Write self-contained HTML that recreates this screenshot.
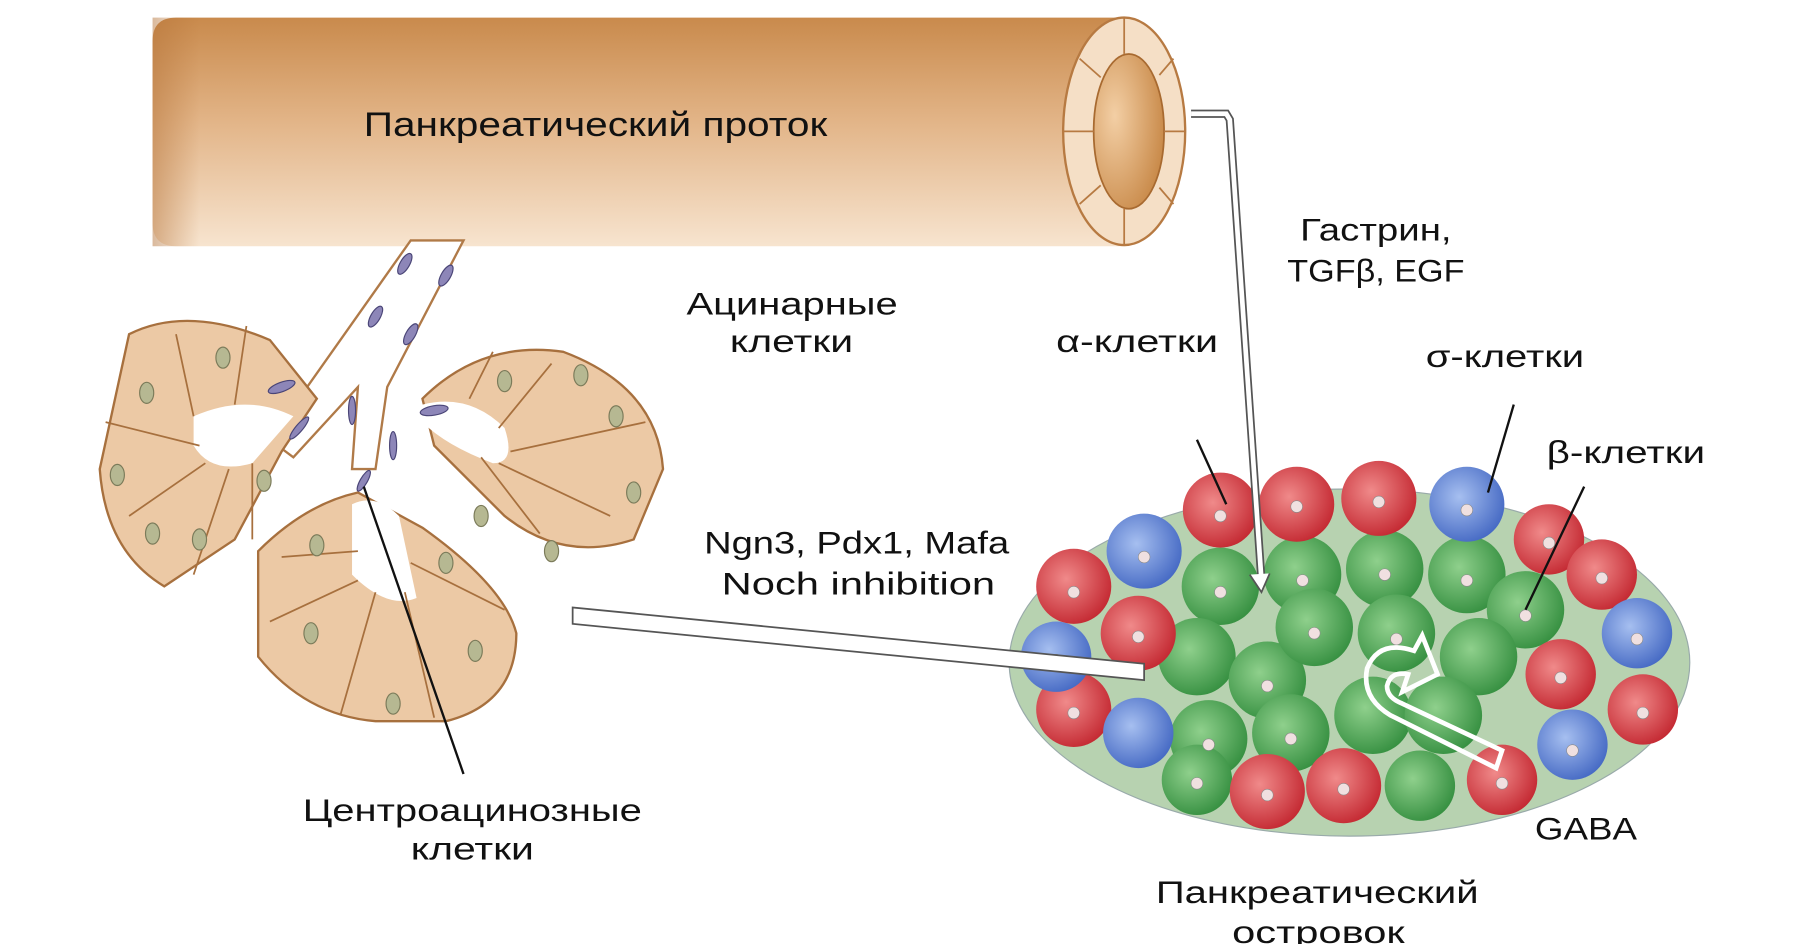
<!DOCTYPE html>
<html><head><meta charset="utf-8"><style>
html,body{margin:0;padding:0;background:#fff;}
svg{display:block;}
text{font-family:"Liberation Sans",sans-serif;fill:#111;}
</style></head><body>
<svg width="1813" height="944" viewBox="0 0 1545 805" preserveAspectRatio="none" xmlns="http://www.w3.org/2000/svg">
<defs>
<linearGradient id="duct" x1="0" y1="0" x2="0" y2="1">
<stop offset="0" stop-color="#c98a4c"/><stop offset="0.45" stop-color="#e2b487"/><stop offset="1" stop-color="#f7e4cf"/></linearGradient>
<linearGradient id="dl" x1="0" y1="0" x2="1" y2="0"><stop offset="0" stop-color="#b57338" stop-opacity="0.5"/><stop offset="1" stop-color="#b57338" stop-opacity="0"/></linearGradient>
<radialGradient id="inner" cx="0.3" cy="0.4" r="0.8"><stop offset="0" stop-color="#f3cfa5"/><stop offset="1" stop-color="#c4823f"/></radialGradient>
<radialGradient id="gr" cx="0.4" cy="0.4" r="0.7"><stop offset="0" stop-color="#8fd08c"/><stop offset="1" stop-color="#2e8a3a"/></radialGradient>
<radialGradient id="rd" cx="0.4" cy="0.4" r="0.7"><stop offset="0" stop-color="#f08a8a"/><stop offset="1" stop-color="#c0202a"/></radialGradient>
<radialGradient id="bl" cx="0.4" cy="0.4" r="0.7"><stop offset="0" stop-color="#a6bff0"/><stop offset="1" stop-color="#3d62c0"/></radialGradient>
</defs>
<!-- duct -->
<path d="M150,15 L960,15 L960,210 L150,210 Q130,210 130,190 L130,35 Q130,15 150,15Z" fill="url(#duct)"/>
<rect x="130" y="15" width="40" height="195" fill="url(#dl)"/>
<ellipse cx="958" cy="112" rx="52" ry="97" fill="#f5dfc6" stroke="#b77a42" stroke-width="2"/>
<ellipse cx="962" cy="112" rx="30" ry="66" fill="url(#inner)" stroke="#a86a30" stroke-width="1.5"/>
<g stroke="#b77a42" stroke-width="1.5"><line x1="958" y1="15" x2="958" y2="46"/><line x1="958" y1="178" x2="958" y2="209"/><line x1="906" y1="112" x2="932" y2="112"/><line x1="992" y1="112" x2="1010" y2="112"/><line x1="920" y1="50" x2="938" y2="66"/><line x1="920" y1="174" x2="938" y2="158"/><line x1="1000" y1="50" x2="988" y2="64"/><line x1="1000" y1="174" x2="988" y2="160"/></g>
<text x="310" y="116" font-size="29" textLength="395" lengthAdjust="spacingAndGlyphs">Панкреатический проток</text>
<!-- branch ducts -->
<path d="M350,205 L395,205 L330,330 L320,400 L300,400 L305,330 L250,390 L230,375 Z" fill="#fff" stroke="#b07a48" stroke-width="2"/>
<!-- acini -->
<g fill="#ecc9a5" stroke="#a7703e" stroke-width="2">
<path d="M110,285 Q160,260 230,290 L270,340 L240,385 L200,460 L140,500 Q90,470 85,400 Z"/>
<path d="M360,340 Q410,290 480,300 Q560,330 565,400 L540,460 Q480,480 430,440 L370,380 Z"/>
<path d="M220,470 Q260,430 305,420 L360,450 Q430,500 440,540 Q440,600 380,615 L320,615 Q260,610 220,560 Z"/>
</g>
<g fill="#fff"><path d="M165,355 Q210,335 250,355 L215,395 Q180,405 165,380Z"/>
<path d="M360,345 Q400,335 430,365 Q440,395 420,395 Q380,380 360,360Z"/>
<path d="M300,430 Q320,420 340,440 L355,510 Q330,520 300,490Z"/></g>
<g stroke="#a7703e" stroke-width="1.5" fill="none">
<path d="M165,355 L150,285 M200,345 L210,278 M170,380 L90,360 M175,395 L110,440 M195,400 L165,490 M215,395 L215,460"/>
<path d="M400,340 L420,300 M425,365 L470,310 M435,385 L550,360 M425,395 L520,440 M410,390 L460,455"/>
<path d="M305,470 L240,475 M305,495 L230,530 M320,505 L290,610 M345,505 L370,612 M350,480 L430,520"/>
</g>
<g fill="#b6b892" stroke="#7b7b5a">
<ellipse cx="190" cy="305" rx="6" ry="9"/><ellipse cx="125" cy="335" rx="6" ry="9"/><ellipse cx="100" cy="405" rx="6" ry="9"/><ellipse cx="130" cy="455" rx="6" ry="9"/><ellipse cx="170" cy="460" rx="6" ry="9"/><ellipse cx="225" cy="410" rx="6" ry="9"/>
<ellipse cx="430" cy="325" rx="6" ry="9"/><ellipse cx="495" cy="320" rx="6" ry="9"/><ellipse cx="525" cy="355" rx="6" ry="9"/><ellipse cx="540" cy="420" rx="6" ry="9"/><ellipse cx="470" cy="470" rx="6" ry="9"/><ellipse cx="410" cy="440" rx="6" ry="9"/>
<ellipse cx="270" cy="465" rx="6" ry="9"/><ellipse cx="265" cy="540" rx="6" ry="9"/><ellipse cx="335" cy="600" rx="6" ry="9"/><ellipse cx="405" cy="555" rx="6" ry="9"/><ellipse cx="380" cy="480" rx="6" ry="9"/>
</g>
<g fill="#8d86b8" stroke="#4a4577">
<ellipse cx="345" cy="225" rx="4" ry="10" transform="rotate(30 345 225)"/><ellipse cx="380" cy="235" rx="4" ry="10" transform="rotate(30 380 235)"/><ellipse cx="320" cy="270" rx="4" ry="10" transform="rotate(30 320 270)"/><ellipse cx="350" cy="285" rx="4" ry="10" transform="rotate(30 350 285)"/><ellipse cx="240" cy="330" rx="4" ry="12" transform="rotate(70 240 330)"/><ellipse cx="370" cy="350" rx="4" ry="12" transform="rotate(80 370 350)"/><ellipse cx="300" cy="350" rx="3" ry="12"/><ellipse cx="335" cy="380" rx="3" ry="12"/><ellipse cx="310" cy="410" rx="3" ry="10" transform="rotate(30 310 410)"/><ellipse cx="255" cy="365" rx="3" ry="12" transform="rotate(40 255 365)"/>
</g>
<line x1="310" y1="415" x2="395" y2="660" stroke="#111" stroke-width="2"/>
<text x="585" y="268" font-size="27" textLength="180" lengthAdjust="spacingAndGlyphs">Ацинарные</text><text x="622" y="300" font-size="27" textLength="105" lengthAdjust="spacingAndGlyphs">клетки</text>
<text x="258" y="700" font-size="27" textLength="289" lengthAdjust="spacingAndGlyphs">Центроацинозные</text><text x="350" y="733" font-size="27" textLength="105" lengthAdjust="spacingAndGlyphs">клетки</text>
<!-- islet -->
<ellipse cx="1150" cy="565" rx="290" ry="148" fill="#b7d2b0" stroke="#9aa" stroke-width="1"/>
<g fill="url(#gr)">
<circle cx="1040" cy="500" r="33"/><circle cx="1110" cy="490" r="33"/><circle cx="1180" cy="485" r="33"/><circle cx="1250" cy="490" r="33"/><circle cx="1300" cy="520" r="33"/>
<circle cx="1020" cy="560" r="33"/><circle cx="1080" cy="580" r="33"/><circle cx="1120" cy="535" r="33"/><circle cx="1190" cy="540" r="33"/><circle cx="1260" cy="560" r="33"/>
<circle cx="1030" cy="630" r="33"/><circle cx="1100" cy="625" r="33"/><circle cx="1170" cy="610" r="33"/><circle cx="1230" cy="610" r="33"/><circle cx="1210" cy="670" r="30"/><circle cx="1020" cy="665" r="30"/>
</g>
<g fill="url(#rd)">
<circle cx="1040" cy="435" r="32"/><circle cx="1105" cy="430" r="32"/><circle cx="1175" cy="425" r="32"/><circle cx="915" cy="500" r="32"/><circle cx="970" cy="540" r="32"/><circle cx="915" cy="605" r="32"/>
<circle cx="1080" cy="675" r="32"/><circle cx="1145" cy="670" r="32"/><circle cx="1280" cy="665" r="30"/><circle cx="1320" cy="460" r="30"/><circle cx="1365" cy="490" r="30"/><circle cx="1330" cy="575" r="30"/><circle cx="1400" cy="605" r="30"/>
</g>
<g fill="url(#bl)">
<circle cx="975" cy="470" r="32"/><circle cx="1250" cy="430" r="32"/><circle cx="900" cy="560" r="30"/><circle cx="970" cy="625" r="30"/><circle cx="1395" cy="540" r="30"/><circle cx="1340" cy="635" r="30"/>
</g>
<g fill="#f0e0e0" stroke="#888" stroke-width="0.5">
<circle cx="1040" cy="440" r="5"/><circle cx="1105" cy="432" r="5"/><circle cx="1175" cy="428" r="5"/><circle cx="915" cy="505" r="5"/><circle cx="970" cy="543" r="5"/><circle cx="915" cy="608" r="5"/><circle cx="1080" cy="678" r="5"/><circle cx="1145" cy="673" r="5"/><circle cx="1320" cy="463" r="5"/><circle cx="1365" cy="493" r="5"/><circle cx="1330" cy="578" r="5"/><circle cx="1400" cy="608" r="5"/><circle cx="1280" cy="668" r="5"/>
<circle cx="1040" cy="505" r="5"/><circle cx="1110" cy="495" r="5"/><circle cx="1180" cy="490" r="5"/><circle cx="1250" cy="495" r="5"/><circle cx="1300" cy="525" r="5"/><circle cx="1120" cy="540" r="5"/><circle cx="1190" cy="545" r="5"/><circle cx="1080" cy="585" r="5"/><circle cx="1030" cy="635" r="5"/><circle cx="1100" cy="630" r="5"/><circle cx="1020" cy="668" r="5"/>
<circle cx="975" cy="475" r="5"/><circle cx="1250" cy="435" r="5"/><circle cx="900" cy="563" r="5"/><circle cx="1395" cy="545" r="5"/><circle cx="1340" cy="640" r="5"/>
</g>
<!-- GABA arrow -->
<path d="M1275,655 L1185,610 Q1160,595 1165,570 Q1175,545 1205,555 L1212,542 L1225,575 L1195,590 L1200,575 Q1185,572 1182,585 Q1182,595 1195,600 L1280,640 Z" fill="none" stroke="#fff" stroke-width="4"/>
<!-- connectors -->
<path d="M1015,97 L1045,97 L1048,102 L1075,495" fill="none" stroke="#555" stroke-width="7"/>
<path d="M1015,97 L1045,97 L1048,102 L1075,495" fill="none" stroke="#fff" stroke-width="4"/>
<path d="M1065,490 L1075,505 L1082,489" fill="#fff" stroke="#555" stroke-width="1.5"/>
<path d="M488,518 L488,532 L975,580 L975,566 Z" fill="#fff" stroke="#555" stroke-width="1.5"/>
<line x1="1020" y1="375" x2="1045" y2="430" stroke="#111" stroke-width="2"/>
<line x1="1290" y1="345" x2="1268" y2="420" stroke="#111" stroke-width="2"/>
<line x1="1350" y1="415" x2="1300" y2="520" stroke="#111" stroke-width="2"/>
<text x="1108" y="205" font-size="27" textLength="129" lengthAdjust="spacingAndGlyphs">Гастрин,</text><text x="1097" y="240" font-size="27" textLength="151" lengthAdjust="spacingAndGlyphs">TGFβ, EGF</text>
<text x="900" y="300" font-size="27" textLength="138" lengthAdjust="spacingAndGlyphs">α-клетки</text>
<text x="1215" y="313" font-size="27" textLength="135" lengthAdjust="spacingAndGlyphs">σ-клетки</text>
<text x="1318" y="395" font-size="27" textLength="135" lengthAdjust="spacingAndGlyphs">β-клетки</text>
<text x="600" y="472" font-size="27" textLength="260" lengthAdjust="spacingAndGlyphs">Ngn3, Pdx1, Mafa</text><text x="615" y="507" font-size="27" textLength="233" lengthAdjust="spacingAndGlyphs">Noch inhibition</text>
<text x="1308" y="716" font-size="27" textLength="87" lengthAdjust="spacingAndGlyphs">GABA</text>
<text x="985" y="770" font-size="27" textLength="275" lengthAdjust="spacingAndGlyphs">Панкреатический</text><text x="1050" y="804" font-size="27" textLength="147" lengthAdjust="spacingAndGlyphs">островок</text>
</svg>
</body></html>
